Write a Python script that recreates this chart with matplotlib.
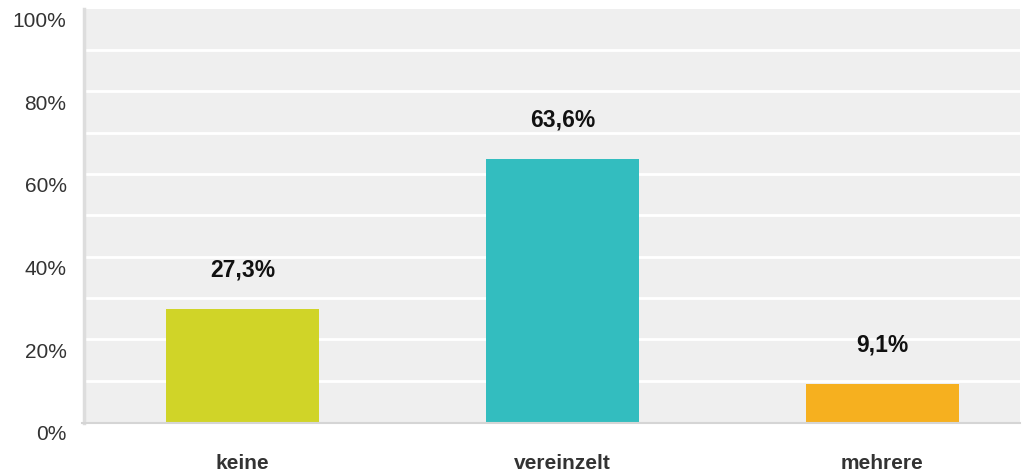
import matplotlib
matplotlib.use("Agg")
import matplotlib.pyplot as plt
from matplotlib.lines import Line2D
from matplotlib.transforms import ScaledTranslation

plt.rcParams['font.family'] = ['Liberation Sans', 'DejaVu Sans']

categories = ["keine", "vereinzelt", "mehrere"]
values = [27.3, 63.6, 9.1]
value_labels = ["27,3%", "63,6%", "9,1%"]
bar_colors = ["#d0d428", "#33bdbf", "#f6b01f"]
y_ticks = [0, 20, 40, 60, 80, 100]
y_tick_labels = ["0%", "20%", "40%", "60%", "80%", "100%"]

W, H = 1031, 474
fig = plt.figure(figsize=(W / 100, H / 100), dpi=100)
left, right, top, bottom = 86, 1020, 8.5, 422
ax = fig.add_axes([left / W, (H - bottom) / H, (right - left) / W, (bottom - top) / H])
ax.set_facecolor("#efefef")

x = list(range(len(categories)))
ax.bar(x, values, width=0.48, color=bar_colors, zorder=3)

ax.set_xlim(-0.49, 2.43)
ax.set_ylim(0, 100)

# white gridlines every 10%
for g in range(10, 100, 10):
    ax.axhline(g, color="white", lw=2, zorder=1)

ax.set_yticks(y_ticks)
ax.set_yticklabels(y_tick_labels, fontsize=15, color="#333333")
ax.set_xticks(x)
ax.set_xticklabels(categories, fontsize=15, fontweight="bold", color="#333333")
ax.tick_params(axis="y", length=0, pad=14)
ax.tick_params(axis="x", length=0, pad=23)

# y labels sit a little below their gridline
shift = ScaledTranslation(0, -11 / 100, fig.dpi_scale_trans)
for lbl in ax.get_yticklabels():
    lbl.set_transform(lbl.get_transform() + shift)

for s in ax.spines.values():
    s.set_visible(False)

# axis lines
fig.add_artist(Line2D([83.5 / W, 83.5 / W], [(H - 423) / H, (H - 8.5) / H],
                      transform=fig.transFigure, color="#dddddd", lw=2.5))
fig.add_artist(Line2D([82 / W, right / W], [(H - 423) / H, (H - 423) / H],
                      transform=fig.transFigure, color="#d5d5d5", lw=1.5))

for xi, v, lab in zip(x, values, value_labels):
    ax.annotate(lab, (xi, v), xytext=(0, 28), textcoords="offset points",
                ha="center", va="center", fontsize=16.5, fontweight="bold",
                color="#111111", zorder=4)

fig.savefig("out.png", dpi=100)
